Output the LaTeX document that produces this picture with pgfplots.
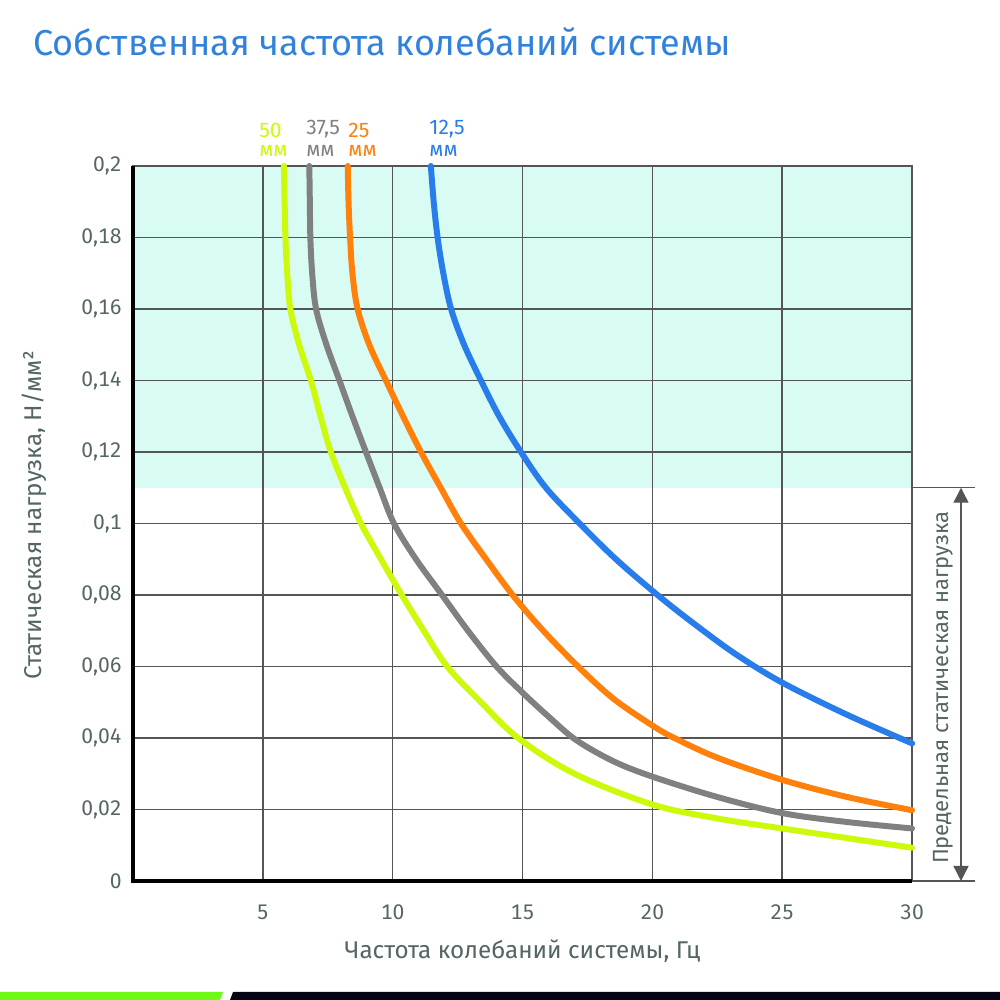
\documentclass[border=0pt]{standalone}
\usepackage{pgfplots}
\pgfplotsset{compat=1.18}
\usepackage{fontspec}
\setmainfont{Fira Sans}
\newfontfamily\tickfont[Numbers=Monospaced]{Fira Sans}
\usetikzlibrary{arrows.meta}
\definecolor{cyel}{RGB}{204,250,10}
\definecolor{cgray}{RGB}{128,128,128}
\definecolor{corange}{RGB}{255,128,10}
\definecolor{cblue}{RGB}{40,125,235}
\definecolor{ctitle}{RGB}{50,130,220}
\definecolor{cshade}{RGB}{216,251,243}
\definecolor{ctext}{RGB}{85,100,100}
\definecolor{cgrid}{RGB}{85,85,85}
\definecolor{cgreen}{RGB}{110,250,20}
\definecolor{cblack}{RGB}{5,5,20}
\begin{document}
\begin{tikzpicture}[x=1cm,y=1cm]
\node[anchor=base west, font=\fontsize{20.5}{24}\selectfont, text=ctitle, inner sep=0] at (0.66,18.88) {Собственная частота колебаний системы};
\fill[cgreen] (0,0) -- (4.40,0) -- (4.46,0.16) -- (0,0.16) -- cycle;
\fill[cblack] (4.60,0) -- (20,0) -- (20,0.16) -- (4.66,0.16) -- cycle;
\begin{axis}[
  at={(2.66cm,2.38cm)}, anchor=south west,
  scale only axis, width=15.58cm, height=14.3cm,
  set layers, clip=false,
  xmin=0, xmax=30, ymin=0, ymax=0.2,
  xtick={5,10,15,20,25,30},
  ytick={0,0.02,0.04,0.06,0.08,0.1,0.12,0.14,0.16,0.18,0.2},
  yticklabels={0,{0,02},{0,04},{0,06},{0,08},{0,1},{0,12},{0,14},{0,16},{0,18},{0,2}},
  grid=major, grid style={cgrid, line width=0.8pt},
  axis line style={cgrid, line width=0.8pt},
  major tick length=0pt,
  tick label style={font=\tickfont\fontsize{12}{14}\selectfont, text=ctext},
  xticklabel style={yshift=-0.36cm},
  yticklabel style={xshift=-0.1cm},
  /pgf/number format/assume math mode=true,
  xlabel={Частота колебаний системы, Гц},
  ylabel={Статическая нагрузка, Н/мм²},
  label style={font=\fontsize{13.8}{16}\selectfont, text=ctext},
  xlabel style={at={(axis description cs:0.5,-0.098)}, anchor=center},
  ylabel style={at={(axis description cs:-0.127,0.512)}, anchor=center},
  every axis plot/.append style={line width=3.4pt, line join=round, line cap=round},
]
\addplot[fill=cshade, draw=none, on layer=axis background, line width=0pt] coordinates {(0,0.11) (30,0.11) (30,0.2) (0,0.2)} -- cycle;
% 50 mm
\addplot[cyel, smooth, tension=0.55] coordinates {
(5.81,0.2) (5.84,0.19) (5.87,0.18) (5.94,0.17) (6.06,0.16) (6.4,0.15) (6.85,0.14) (7.22,0.13) (7.62,0.12) (8.17,0.11) (8.78,0.10) (9.55,0.09) (10.35,0.08) (11.2,0.07) (12.1,0.06) (13.4,0.05) (14.83,0.04) (17,0.030) (20,0.0214) (22.5,0.0175) (25,0.0147) (27.5,0.012) (30,0.0093)};
% 37.5 mm
\addplot[cgray, smooth, tension=0.55] coordinates {
(6.79,0.2) (6.81,0.19) (6.83,0.18) (6.9,0.17) (7.05,0.16) (7.45,0.15) (7.95,0.14) (8.45,0.13) (8.97,0.12) (9.5,0.11) (10.05,0.10) (10.9,0.09) (11.9,0.08) (12.9,0.07) (14.0,0.06) (15,0.0527) (16,0.046) (17.07,0.0394) (18.5,0.0335) (20,0.0292) (22.5,0.0235) (25,0.019) (27.5,0.0165) (30,0.0147)};
% 25 mm
\addplot[corange, smooth, tension=0.55] coordinates {
(8.27,0.2) (8.3,0.19) (8.36,0.18) (8.45,0.17) (8.65,0.16) (9.1,0.15) (9.74,0.14) (10.4,0.13) (11.09,0.12) (11.85,0.11) (12.63,0.10) (13.6,0.09) (14.62,0.08) (15.8,0.07) (17.14,0.06) (18.5,0.051) (20,0.0435) (20.85,0.04) (22.5,0.0345) (25,0.0283) (27.5,0.0235) (30,0.0198)};
% 12.5 mm
\addplot[cblue, smooth, tension=0.55] coordinates {
(11.47,0.2) (11.58,0.19) (11.73,0.18) (11.95,0.17) (12.25,0.16) (12.75,0.15) (13.4,0.14) (14.1,0.13) (14.94,0.12) (15.9,0.11) (17.2,0.10) (18.6,0.09) (20.2,0.08) (21.6,0.072) (23.2,0.0635) (25,0.0555) (27.5,0.0465) (30,0.0385)};
\draw[black, line width=1.8pt] (axis cs:0,0.2) -- (axis cs:0,0) -- (axis cs:30,0);
% series labels
\node[anchor=south west, inner sep=0, text=cyel, font=\fontsize{12}{12}\selectfont, yshift=0.56cm] at (axis cs:4.85,0.2) {50};
\node[anchor=south west, inner sep=0, text=cyel, font=\fontsize{12}{12}\selectfont, yshift=0.18cm] at (axis cs:4.85,0.2) {мм};
\node[anchor=south west, inner sep=0, text=cgray, font=\fontsize{12}{12}\selectfont, yshift=0.56cm] at (axis cs:6.66,0.2) {37,5};
\node[anchor=south west, inner sep=0, text=cgray, font=\fontsize{12}{12}\selectfont, yshift=0.18cm] at (axis cs:6.66,0.2) {мм};
\node[anchor=south west, inner sep=0, text=corange, font=\fontsize{12}{12}\selectfont, yshift=0.56cm] at (axis cs:8.28,0.2) {25};
\node[anchor=south west, inner sep=0, text=corange, font=\fontsize{12}{12}\selectfont, yshift=0.18cm] at (axis cs:8.28,0.2) {мм};
\node[anchor=south west, inner sep=0, text=cblue, font=\fontsize{12}{12}\selectfont, yshift=0.56cm] at (axis cs:11.4,0.2) {12,5};
\node[anchor=south west, inner sep=0, text=cblue, font=\fontsize{12}{12}\selectfont, yshift=0.18cm] at (axis cs:11.4,0.2) {мм};
% limit bracket
\draw[cgrid, line width=0.8pt] (axis cs:30,0.11) -- ++(1.26cm,0cm);
\draw[cgrid, line width=0.8pt] (axis cs:30,0) -- ++(1.26cm,0cm);
\draw[cgrid, line width=0.8pt, {Triangle[length=0.3cm,width=0.3cm]}-{Triangle[length=0.3cm,width=0.3cm]}] ([xshift=0.98cm]axis cs:30,0.11) -- ([xshift=0.98cm]axis cs:30,0);
\node[rotate=90, text=ctext, font=\fontsize{12.5}{15}\selectfont] at ([xshift=0.62cm]axis cs:30,0.054) {Предельная статическая нагрузка};
\end{axis}
\pgfresetboundingbox
\useasboundingbox (0,0) rectangle (20,20);
\end{tikzpicture}
\end{document}
